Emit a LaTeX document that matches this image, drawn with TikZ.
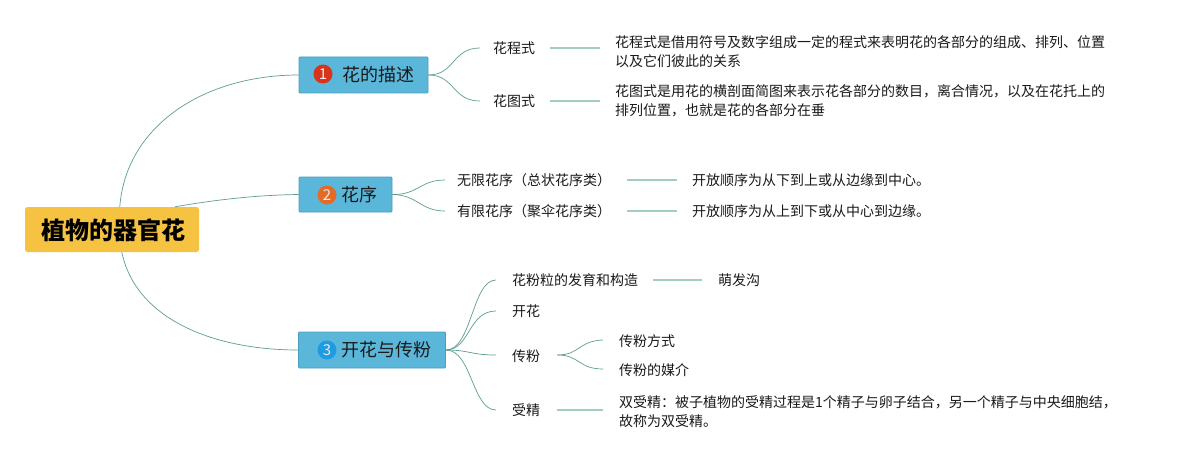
\documentclass[tikz,border=0pt]{standalone}
\usepackage{fontspec}
\setmainfont{Noto Sans CJK SC}
\usetikzlibrary{calc}
\definecolor{rootc}{HTML}{F5C242}
\definecolor{boxc}{HTML}{5BB7DA}
\definecolor{boxb}{HTML}{4A9DBE}
\definecolor{curvec}{HTML}{5E9E92}
\definecolor{linec}{HTML}{A3CCC4}
\definecolor{txtc}{HTML}{1A1A1A}
\definecolor{redc}{HTML}{D8341C}
\definecolor{orac}{HTML}{E36B26}
\definecolor{bluec}{HTML}{1E9BE2}
\begin{document}
\begin{tikzpicture}[x=1pt,y=-1pt,
  rootbox/.style={fill=rootc, rounded corners=2.5pt, minimum width=174pt, minimum height=45pt, inner sep=0pt},
  lonebox/.style={fill=boxc, draw=boxb, line width=0.8pt, rounded corners=1pt, minimum height=36pt, inner sep=0pt},
  numc/.style={circle, minimum size=19pt, inner sep=0pt, text=white!92!black, font=\fontsize{15}{15}\selectfont},
  ltxt/.style={anchor=west, inner sep=0pt, text=txtc, font=\fontsize{18}{18}\selectfont},
  txt/.style={anchor=west, inner sep=0pt, text=txtc, font=\fontsize{14}{19}\selectfont},
  dtxt/.style={txt, align=left},
  curve/.style={draw=curvec, line width=0.7pt},
  sep/.style={draw=linec, line width=1.5pt}
]
\useasboundingbox[fill=white] (0,0) rectangle (1179,460);

% root
\node[rootbox] (r) at (112,229.5) {};
\node[anchor=west, inner sep=0pt, text=black, font=\fontsize{24}{24}\selectfont\bfseries] (rt) at (41,230) {植物的器官花};

% level 1 boxes
\node[lonebox, minimum width=129pt] (b1) at (363.5,75) {};
\node[numc, fill=redc] (n1) at (323,74) {1};
\node[ltxt] (t1) at (342,75) {花的描述};

\node[lonebox, minimum width=93pt, minimum height=35pt] (b2) at (345.5,194.5) {};
\node[numc, fill=orac] (n2) at (327,195) {2};
\node[ltxt] (t2) at (341,195) {花序};

\node[lonebox, minimum width=147pt] (b3) at (372,350) {};
\node[numc, fill=bluec] (n3) at (327,350) {3};
\node[ltxt] (t3) at (341,350) {开花与传粉};

% root connectors
\coordinate (r1) at ($(r.north west)+(95,0)$);
\coordinate (r2) at ($(r.north west)+(150,0)$);
\coordinate (r3) at ($(r.south west)+(97,0)$);
\draw[curve] (r1) .. controls (126,125) and (205,75) .. (b1.west);
\draw[curve] (r2) .. controls (220,199) and (260,195) .. (b2.west);
\draw[curve] (r3) .. controls (136,320) and (215,350) .. (b3.west);

% branch 1
\node[txt] (a1) at (493,48) {花程式};
\node[txt] (a2) at (493,101) {花图式};
\node[dtxt] (d1) at (615,51.5) {花程式是借用符号及数字组成一定的程式来表明花的各部分的组成、排列、位置\\以及它们彼此的关系};
\node[dtxt] (d2) at (615,100.5) {花图式是用花的横剖面简图来表示花各部分的数目，离合情况，以及在花托上的\\排列位置，也就是花的各部分在垂};
\coordinate (a1l) at ($(a1.west)+(-13,0)$);
\coordinate (a2l) at ($(a2.west)+(-13,0)$);
\draw[curve] (b1.east) .. controls (455,75) and (452,48) .. (a1l);
\draw[curve] (b1.east) .. controls (455,75) and (452,101) .. (a2l);
\draw[sep] ($(a1.east)+(15,0)$) -- ($(d1.west|-a1.east)+(-15,0)$);
\draw[sep] ($(a2.east)+(15,0)$) -- ($(d2.west|-a2.east)+(-15,0)$);

% branch 2
\node[txt] (c1) at (457,180) {无限花序（总状花序类）};
\node[txt] (c2) at (457,211) {有限花序（聚伞花序类）};
\node[txt] (e1) at (692,180) {开放顺序为从下到上或从边缘到中心。};
\node[txt] (e2) at (692,211) {开放顺序为从上到下或从中心到边缘。};
\coordinate (c1l) at ($(c1.west)+(-12,0)$);
\coordinate (c2l) at ($(c2.west)+(-12,0)$);
\draw[curve] (b2.east) .. controls (418,195) and (420,180) .. (c1l);
\draw[curve] (b2.east) .. controls (418,195) and (420,211) .. (c2l);
\draw[sep] (627,180) -- ($(e1.west)+(-15,0)$);
\draw[sep] (627,211) -- ($(e2.west)+(-15,0)$);

% branch 3
\node[txt] (f1) at (512,280) {花粉粒的发育和构造};
\node[txt] (f2) at (512,311) {开花};
\node[txt] (f3) at (512,356) {传粉};
\node[txt] (f4) at (512,410) {受精};
\node[txt] (g1) at (718,280) {萌发沟};
\node[txt] (h1) at (619,341) {传粉方式};
\node[txt] (h2) at (619,370) {传粉的媒介};
\node[dtxt] (k1) at (619,411.5) {双受精：被子植物的受精过程是1个精子与卵子结合，另一个精子与中央细胞结，\\故称为双受精。};
\coordinate (f1l) at ($(f1.west)+(-16,0)$);
\coordinate (f2l) at ($(f2.west)+(-16,0)$);
\coordinate (f3l) at ($(f3.west)+(-16,-1)$);
\coordinate (f4l) at ($(f4.west)+(-16,0)$);
\draw[curve] (b3.east) .. controls (472,350) and (472,280) .. (f1l);
\draw[curve] (b3.east) .. controls (470,350) and (468,311) .. (f2l);
\draw[curve] (b3.east) .. controls (470,350) and (470,355) .. (f3l);
\draw[curve] (b3.east) .. controls (472,350) and (472,410) .. (f4l);
\draw[sep] ($(f1.east)+(15,0)$) -- ($(g1.west)+(-16,0)$);
\coordinate (f3r) at ($(f3.east)+(17,-1)$);
\draw[curve] (f3r) .. controls (580,355) and (578,341) .. ($(h1.west)+(-16,-1)$);
\draw[curve] (f3r) .. controls (580,355) and (578,369) .. ($(h2.west)+(-16,-1)$);
\draw[sep] ($(f4.east)+(17,0)$) -- ($(k1.west|-f4.east)+(-16,0)$);
\end{tikzpicture}
\end{document}
